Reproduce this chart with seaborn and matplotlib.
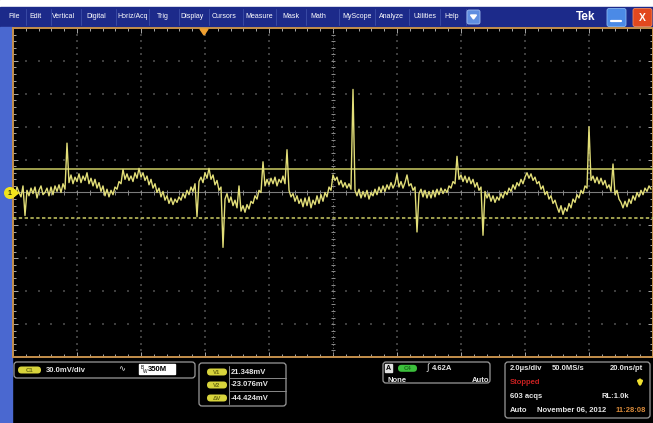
import numpy as np
import matplotlib
matplotlib.use('Agg')
import matplotlib.pyplot as plt
import seaborn as sns
import pandas as pd
from matplotlib.patches import FancyBboxPatch, Rectangle, Circle, Polygon

# ---------------- data ----------------
menu_items = ['File', 'Edit', 'Vertical', 'Digital', 'Horiz/Acq', 'Trig', 'Display',
              'Cursors', 'Measure', 'Mask', 'Math', 'MyScope', 'Analyze', 'Utilities', 'Help']
menu_x = [14, 36, 64, 96, 133, 163, 192, 224, 259, 291, 318, 357, 391, 425, 452]

# channel 1 trace (mV), one sample every 0.0625 us starting at -10 us
ch1_mv = [
    3, -2, 5, 0, -4, 6, -21, 2, -3, 4, -1, 5, -5, 2, 6, -2,
    0, 4, -3, 5, -2, 6, 1, 7, 0, 8, 3, 45, 9, 16, 8, 14,
    10, 17, 9, 15, 11, 18, 8, 13, 6, 12, 4, 9, 1, 6, -3, 3,
    -4, 2, -2, 5, 3, 10, 8, 21, 12, 17, 11, 15, 10, 18, 13, 22,
    14, 18, 11, 15, 7, 12, 4, 8, 0, 4, -4, 1, -7, -3, -10, -5,
    -11, -6, -9, -4, -7, -1, -5, 2, -2, 5, 1, 8, -22, 10, 14, 9,
    18, 13, 22, 12, 16, 7, 11, 2, 5, -50, -6, -1, -9, -4, -12, -7,
    -14, 6, -17, -12, -18, -11, -15, -8, -10, -3, -6, 2, 0, 28, 6, 12,
    7, 13, 8, 14, 6, 12, 9, 15, 8, 39, 2, -4, -1, -8, -3, -10,
    -6, -13, -5, -12, -4, -14, -7, -11, -3, -10, -2, -8, 0, -4, 5, 2,
    16, 11, 14, 7, 11, 5, 9, 4, 8, 3, 94, 2, -3, 3, -5, 1,
    -4, 2, -6, 0, -3, 3, -2, 5, 0, 6, 1, 7, 3, 9, 4, 8,
    17, 5, 10, 4, 9, 16, 6, 8, 2, 5, -36, -1, 3, -4, 2, -5,
    1, -5, 2, -4, 3, -2, 4, -1, 3, 0, 6, 4, 10, 8, 33, 12,
    16, 10, 15, 9, 14, 8, 12, 5, 9, 2, 5, -39, 1, -5, -1, -8,
    -3, -9, -4, -7, -1, -5, 1, -2, 4, 1, 7, 3, 9, 6, 12, 8,
    14, 18, 13, 17, 11, 14, 8, 10, 3, 6, -2, 1, -6, -3, -10, -7,
    -13, -18, -12, -20, -14, -17, -10, -14, -6, -9, -2, -5, 2, -1, 6, 4,
    60, 11, 15, 9, 14, 8, 13, 7, 11, 4, 7, 1, 26, -2, 2, -6,
    -9, -14, -8, -13, -6, -10, -3, -7, 0, -4, 2, -2, 4, 1, 6, 3,
]
sample_us = 0.0625
t_start_us = -10.0
volts_per_div_mv = 30.0
time_per_div_us = 2.0

cursor_v1_mv = 21.348
cursor_v2_mv = -23.076
cursor_labels = ['V1', 'V2', '\u0394V']
cursor_values = ['21.348mV', '-23.076mV', '-44.424mV']

ch_label = 'C1'
ch_scale = '30.0mV/div'
bw_label = '350M'
trig_src = 'C4'
trig_level = '4.62A'
horiz_texts = ['2.0\u00b5s/div', '50.0MS/s', '20.0ns/pt']
acq_status = 'Stopped'
acq_count = '603 acqs'
record_len = 'RL:1.0k'
acq_mode = 'Auto'
date_text = 'November 06, 2012'
time_text = '11:28:08'

# ---------------- style ----------------
sns.set_style('dark')
plt.rcParams['font.family'] = ['Liberation Sans', 'DejaVu Sans']

W, H = 653, 423
fig = plt.figure(figsize=(W / 100, H / 100), dpi=100)
fig.patch.set_facecolor('black')

TXT = '#e6e6e6'
YEL = '#d8d43c'
TRACE = '#e2de78'

# background (pixel coords)
bg = fig.add_axes([0, 0, 1, 1])
bg.set_xlim(0, W); bg.set_ylim(H, 0); bg.axis('off')
bg.add_patch(Rectangle((0, 0), W, H, color='black', zorder=0))
bg.add_patch(Rectangle((0, 0), W, 7, color='white', zorder=1))
bg.add_patch(Rectangle((0, 7), W, 20, color='#1c2a8a', zorder=1))
bg.add_patch(Rectangle((0, 27), 12, H - 27, color='#4a68d0', zorder=1))

# menu
for name, x in zip(menu_items, menu_x):
    bg.text(x, 17, name, color='white', fontsize=5, ha='center', va='center', zorder=3)
for a, b in zip(menu_x[:-1], menu_x[1:]):
    bg.plot([(a + b) / 2 + 1] * 2, [9, 25], color='#3d4ea8', lw=0.6, zorder=2)
bg.plot([466] * 2, [9, 25], color='#3d4ea8', lw=0.6, zorder=2)
bg.add_patch(FancyBboxPatch((467, 10), 13, 14, boxstyle='round,pad=0,rounding_size=2',
                            fc='#5f8ee0', ec='#9fbdf0', lw=0.6, zorder=3))
bg.add_patch(Polygon([(470.5, 15), (476.5, 15), (473.5, 19)], color='white', zorder=4))
bg.text(586, 16.5, 'Tek', color='white', fontsize=8.5, fontweight='bold', ha='center', va='center', zorder=3)
bg.add_patch(FancyBboxPatch((607, 8.5), 19, 18, boxstyle='round,pad=0,rounding_size=2',
                            fc='#4b8ae6', ec='#8ab8f2', lw=0.6, zorder=3))
bg.plot([611, 621], [21.5, 21.5], color='white', lw=1.6, zorder=4)
bg.add_patch(FancyBboxPatch((633, 8.5), 19, 18, boxstyle='round,pad=0,rounding_size=2',
                            fc='#e2481e', ec='#f08a60', lw=0.6, zorder=3))
bg.text(642.5, 18, 'X', color='white', fontsize=7.5, fontweight='bold', ha='center', va='center', zorder=4)

# ---------------- graticule with trace ----------------
x0, x1, y0, y1 = 13, 653, 28, 357
ax = fig.add_axes([x0 / W, 1 - y1 / H, (x1 - x0) / W, (y1 - y0) / H])
ax.set_facecolor('black')
half_t = 5 * time_per_div_us
half_v = 5 * volts_per_div_mv
ax.set_xlim(-half_t, half_t)
ax.set_ylim(-half_v, half_v)

xs_major = np.arange(-half_t, half_t + 1e-9, time_per_div_us)
xs_minor = np.arange(-half_t, half_t + 1e-9, time_per_div_us / 5)
ys_major = np.arange(-half_v, half_v + 1e-9, volts_per_div_mv)
ys_minor = np.arange(-half_v, half_v + 1e-9, volts_per_div_mv / 5)

# dotted grid (faint)
GRID = '#3e3e3e'
for xm in xs_major[1:-1]:
    if abs(xm) < 1e-9:
        continue
    ax.scatter(np.full_like(ys_minor, xm), ys_minor, s=0.8, marker='s', color=GRID, linewidths=0, zorder=1)
for ym in ys_major[1:-1]:
    if abs(ym) < 1e-9:
        continue
    ax.scatter(xs_minor, np.full_like(xs_minor, ym), s=0.8, marker='s', color=GRID, linewidths=0, zorder=1)

# center cross
ax.axhline(0, color='#7c7c7c', lw=0.8, zorder=1)
ax.vlines(xs_minor, -2.2, 2.2, color='#8a8a8a', lw=0.7, zorder=1)
ax.axvline(0, color='#6a6a6a', lw=0.7, ls=(0, (1, 2)), zorder=1)
ax.hlines(ys_minor, -0.07, 0.07, color='#8a8a8a', lw=0.7, zorder=1)

# cursors
ax.axhline(cursor_v1_mv, color='#cccc64', lw=1.1, zorder=3)
ax.axhline(cursor_v2_mv, color='#cccc64', lw=1.1, ls=(0, (2.2, 1.6)), zorder=3)

df = pd.DataFrame({'t_us': t_start_us + sample_us * np.arange(len(ch1_mv)), 'mv': ch1_mv})
sns.lineplot(data=df, x='t_us', y='mv', ax=ax, color=TRACE, lw=1.0, estimator=None, sort=False, zorder=4)
ax.set_xlabel(''); ax.set_ylabel('')
ax.grid(False)

ax.set_xticks(xs_major); ax.set_xticks(xs_minor, minor=True)
ax.set_yticks(ys_major); ax.set_yticks(ys_minor, minor=True)
ax.tick_params(which='both', direction='in', top=True, bottom=True, left=True, right=True,
               labelbottom=False, labelleft=False, color='#a8a8a8', width=0.7)
ax.tick_params(which='major', length=3.5)
ax.tick_params(which='minor', length=2.2)
for s in ax.spines.values():
    s.set_color('#c48f4c'); s.set_linewidth(1.4)

# ---------------- foreground overlays ----------------
fg = fig.add_axes([0, 0, 1, 1], facecolor='none')
fg.set_xlim(0, W); fg.set_ylim(H, 0); fg.axis('off')
fg.add_patch(Polygon([(200, 29), (208, 29), (204, 35)], color='#f0a030', zorder=5))
fg.add_patch(Circle((10, 193), 5.3, color='#f2e41c', zorder=5))
fg.add_patch(Polygon([(14, 189.5), (18.5, 193), (14, 196.5)], color='#f2e41c', zorder=5))
fg.text(10, 193.3, '1', color='#303000', fontsize=5, fontweight='bold', ha='center', va='center', zorder=6)

def pill(x, y, w, h, fc, label, tc):
    fg.add_patch(FancyBboxPatch((x, y), w, h, boxstyle='round,pad=0,rounding_size=%f' % (h / 2),
                                fc=fc, ec='none', zorder=5))
    fg.text(x + w / 2, y + h / 2 + 0.3, label, color=tc, fontsize=4.3, fontweight='bold',
            ha='center', va='center', zorder=6)

def box(x, y, w, h):
    fg.add_patch(FancyBboxPatch((x, y), w, h, boxstyle='round,pad=0,rounding_size=3',
                                fc='none', ec='#9a9a9a', lw=0.9, zorder=4))

FS = 5.5
# channel box
box(14, 362, 181, 16)
pill(18, 366.5, 23, 7, YEL, ch_label, '#6a6a10')
fg.text(46, 370, ch_scale, color=TXT, fontsize=FS, fontweight='bold', ha='left', va='center')
fg.text(122, 370, '\u223f', color=TXT, fontsize=6, ha='center', va='center')
fg.add_patch(Rectangle((139, 364.5), 36, 10, color='white', zorder=5))
fg.text(140.5, 367.5, 'B', color='black', fontsize=3.4, ha='left', va='center', zorder=6)
fg.text(142.5, 371.5, 'W', color='black', fontsize=3.4, ha='left', va='center', zorder=6)
fg.text(148, 369.8, bw_label, color='black', fontsize=FS, fontweight='bold', ha='left', va='center', zorder=6)

# cursor box
box(199, 363, 87, 43)
row_y = [372, 385, 398]
fg.plot([229, 229], [366, 404], color='#8a8a8a', lw=0.7, zorder=4)
for yy in [378.5, 391.5]:
    fg.plot([229, 286], [yy, yy], color='#8a8a8a', lw=0.7, zorder=4)
for lab, val, yy in zip(cursor_labels, cursor_values, row_y):
    pill(207, yy - 3.5, 20, 7, YEL, lab, '#6a6a10')
    fg.text(231, yy, val, color=TXT, fontsize=FS, fontweight='bold', ha='left', va='center')

# trigger box
box(383, 362, 107, 21)
fg.add_patch(Rectangle((384.5, 364.5), 7.5, 7.5, color='#e0e0e0', zorder=5))
fg.text(388.2, 368.3, 'A', color='black', fontsize=5, fontweight='bold', ha='center', va='center', zorder=6)
pill(398, 364.8, 19, 7, '#3cc03c', trig_src, '#1a6a1a')
fg.text(428, 368, '\u222b', color=TXT, fontsize=6.5, ha='center', va='center')
fg.text(432, 368, trig_level, color=TXT, fontsize=FS, fontweight='bold', ha='left', va='center')
fg.text(387, 380, 'None', color=TXT, fontsize=FS, fontweight='bold', ha='left', va='center')
fg.text(489, 380, 'Auto', color=TXT, fontsize=FS, fontweight='bold', ha='right', va='center')

# acquisition box
box(505, 362, 145, 56)
fg.text(510, 369, horiz_texts[0], color=TXT, fontsize=FS, fontweight='bold', ha='left', va='center')
fg.text(552, 369, horiz_texts[1], color=TXT, fontsize=FS, fontweight='bold', ha='left', va='center')
fg.text(643, 369, horiz_texts[2], color=TXT, fontsize=FS, fontweight='bold', ha='right', va='center')
fg.text(510, 383, acq_status, color='#c82020', fontsize=FS, fontweight='bold', ha='left', va='center')
fg.annotate('', xy=(640, 390), xytext=(640, 377),
            arrowprops=dict(arrowstyle='-|>', color='#f0e030', lw=2.0, mutation_scale=6), zorder=6)
fg.text(510, 397, acq_count, color=TXT, fontsize=FS, fontweight='bold', ha='left', va='center')
fg.text(602, 397, record_len, color=TXT, fontsize=FS, fontweight='bold', ha='left', va='center')
fg.text(510, 410, acq_mode, color=TXT, fontsize=FS, fontweight='bold', ha='left', va='center')
fg.text(537, 410, date_text, color=TXT, fontsize=FS, fontweight='bold', ha='left', va='center')
fg.text(616, 410, time_text, color='#d88a3a', fontsize=FS, fontweight='bold', ha='left', va='center')

fig.savefig('out.png', dpi=100, facecolor=fig.get_facecolor())
